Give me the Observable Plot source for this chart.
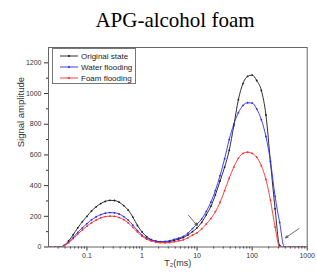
<!DOCTYPE html>
<html><head><meta charset="utf-8">
<script src="https://cdn.jsdelivr.net/npm/d3@7"></script>
<script src="https://cdn.jsdelivr.net/npm/@observablehq/plot@0.6"></script>
<style>
body{margin:0;background:#fff;}
#wrap{position:relative;width:317px;height:273px;overflow:hidden;background:#fff;}
#title{position:relative;height:40px;}
#title span{position:absolute;left:175px;top:10px;transform:translateX(-50%);font-family:"Liberation Serif","Times New Roman",serif;font-size:21px;line-height:21px;white-space:nowrap;color:#000;}
#legend{position:absolute;left:52px;top:48px;}
</style></head><body>
<div id="wrap">
<div id="title"><span>APG-alcohol foam</span></div>
<div id="chart"></div>
<svg id="legend" width="84" height="36"></svg>
</div>
<script>
// T2 relaxation times (ms)
const t2 = [0.0178, 0.0215, 0.0261, 0.0316, 0.0383, 0.0464, 0.0562, 0.0681, 0.0825,
  0.1, 0.121, 0.147, 0.178, 0.215, 0.261, 0.316, 0.383, 0.464, 0.562, 0.681, 0.825,
  1, 1.21, 1.47, 1.78, 2.15, 2.61, 3.16, 3.83, 4.64, 5.62, 6.81, 8.25,
  10, 12.1, 14.7, 17.8, 21.5, 26.1, 31.6, 38.3, 46.4, 56.2, 68.1, 82.5,
  100, 121, 147, 178, 215, 261, 316, 383, 464, 562, 681, 825, 1000];
const originalState = [0, 0, 0, 0, 10, 40, 80, 125, 165,
  200, 235, 262, 283, 297, 304, 303, 292, 270, 240, 195, 140,
  98, 68, 48, 38, 33, 32, 36, 43, 52, 62, 78, 100,
  125, 160, 210, 265, 340, 430, 520, 630, 790, 960, 1065, 1112,
  1120, 1085, 1020, 860, 555, 250, 10, 0, 0, 0, 0, 0, 0];
const waterFlooding = [0, 0, 0, 0, 8, 32, 62, 95, 125,
  152, 177, 197, 211, 220, 224, 223, 215, 198, 175, 143, 107,
  78, 58, 45, 38, 35, 36, 41, 49, 58, 69, 90, 120,
  150, 182, 232, 292, 368, 465, 575, 700, 800, 875, 922, 940,
  938, 900, 830, 720, 560, 330, 160, 0, 0, 0, 0, 0, 0];
const foamFlooding = [0, 0, 0, 0, 7, 28, 55, 84, 111,
  136, 158, 176, 190, 198, 201, 200, 192, 178, 157, 128, 97,
  70, 51, 39, 31, 28, 27, 29, 34, 40, 47, 60, 78,
  92, 118, 150, 185, 230, 290, 368, 448, 520, 578, 610, 618,
  610, 585, 530, 440, 305, 130, 0, 0, 0, 0, 0, 0, 0];
const seriesNames = ["Original state", "Water flooding", "Foam flooding"];
const seriesColors = ["#1a1a1a", "#2a2aff", "#ff2a2a"];
const xMajorTicks = [0.1, 1, 10, 100, 1000];
const xMinorTicks = [0.03,0.04,0.05,0.06,0.07,0.08,0.09,0.2,0.3,0.4,0.5,0.6,0.7,0.8,0.9,
  2,3,4,5,6,7,8,9,20,30,40,50,60,70,80,90,200,300,400,500,600,700,800,900];
const yMajorTicks = [0, 200, 400, 600, 800, 1000, 1200];
const yMinorTicks = [100, 300, 500, 700, 900, 1100];
// annotation arrows (tail T2, tail amplitude, head T2, head amplitude)
const arrowTailT = [7.0, 703];
const arrowTailV = [206, 119];
const arrowHeadT = [10.0, 404];
const arrowHeadV = [141, 60];

const seriesValues = [originalState, waterFlooding, foamFlooding];
const rowsBySeries = seriesNames.map((name, i) => t2.map((t, j) => ({t, v: seriesValues[i][j], s: name})));
const arrows = arrowTailT.map((d, i) => ({x1: d, y1: arrowTailV[i], x2: arrowHeadT[i], y2: arrowHeadV[i]}));

const seriesMarks = rowsBySeries.flatMap((rows) => [
  Plot.line(rows, {x: "t", y: "v", stroke: "s", strokeWidth: 0.9, curve: "monotone-x", clip: true}),
  Plot.dot(rows, {x: "t", y: "v", fill: "s", r: 0.9, clip: true})
]);

const chart = Plot.plot({
  width: 317, height: 233,
  marginTop: 7, marginBottom: 26.5, marginLeft: 48, marginRight: 10.3,
  style: {fontFamily: "'Liberation Sans', Arial, sans-serif", fontSize: "7px", color: "#333", background: "#fff"},
  x: {type: "log", domain: [0.02, 1000]},
  y: {domain: [0, 1300]},
  color: {domain: seriesNames, range: seriesColors},
  marks: [
    Plot.axisX({ticks: xMinorTicks, tickSize: 2, tickFormat: () => "", label: null}),
    Plot.axisX({ticks: xMajorTicks, tickSize: 4, tickPadding: 2, tickFormat: (d) => String(d), label: null}),
    Plot.axisY({ticks: yMinorTicks, tickSize: 2, tickFormat: () => "", label: null}),
    Plot.axisY({ticks: yMajorTicks, tickSize: 4, tickPadding: 3, tickFormat: (d) => String(d), label: null}),
    ...seriesMarks,
    Plot.arrow(arrows, {x1: "x1", y1: "y1", x2: "x2", y2: "y2", stroke: "#444", strokeWidth: 0.8, headLength: 5, headAngle: 50}),
    Plot.frame({stroke: "#666", strokeWidth: 1}),
    Plot.text(["Signal amplitude"], {text: (d) => d, frameAnchor: "left", rotate: -90, dx: -28, fontSize: 9.5, fill: "#333"}),
    Plot.text(["T\u2082(ms)"], {text: (d) => d, frameAnchor: "bottom", dy: 19, fontSize: 9, fill: "#333"})
  ]
});
document.getElementById("chart").appendChild(chart);

// legend
const lg = d3.select("#legend");
lg.append("rect").attr("x", 0.5).attr("y", 0.5).attr("width", 83).attr("height", 35)
  .attr("fill", "#fff").attr("stroke", "#777").attr("stroke-width", 1);
seriesNames.forEach((name, i) => {
  const y = 8 + i * 11;
  lg.append("line").attr("x1", 8).attr("x2", 26).attr("y1", y).attr("y2", y)
    .attr("stroke", seriesColors[i]).attr("stroke-width", 0.9);
  lg.append("circle").attr("cx", 17).attr("cy", y).attr("r", 1.1).attr("fill", seriesColors[i]);
  lg.append("text").attr("x", 29).attr("y", y).attr("dy", "0.35em")
    .attr("font-family", "'Liberation Sans', Arial, sans-serif").attr("font-size", 8)
    .attr("fill", "#222").text(name);
});
</script>
</body></html>
